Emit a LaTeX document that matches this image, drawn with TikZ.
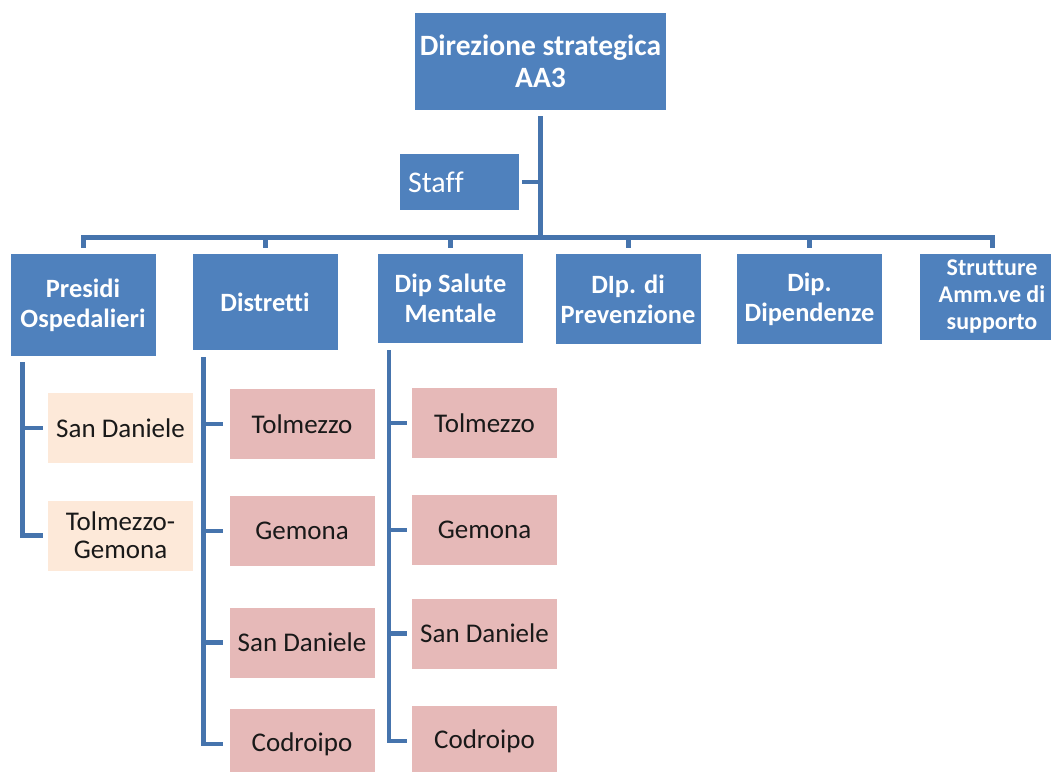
\documentclass[tikz,border=0pt]{standalone}
\usepackage{fontspec}
\setmainfont{Carlito}[Ligatures=NoCommon]
\definecolor{boxblue}{HTML}{4F81BD}
\definecolor{linkblue}{HTML}{4674AD}
\definecolor{subpink}{HTML}{E6B9B8}
\definecolor{subpeach}{HTML}{FDE9D9}
\begin{document}
\begin{tikzpicture}[x=1pt,y=-1pt,
    unit/.style={fill=boxblue,text=white,font=\bfseries\fontsize{26.4}{30}\selectfont,
      align=center,inner sep=0pt,minimum width=145pt},
    office/.style={fill=subpink,text=black!90,font=\fontsize{27}{28}\selectfont,
      align=center,inner sep=0pt,minimum width=145pt,minimum height=70pt},
    link/.style={draw=linkblue,line width=4.5pt}]
  \useasboundingbox (0,0) rectangle (1051,771);
  \clip (0,0) rectangle (1051,771);

  \node[unit,minimum width=251pt,minimum height=97pt,font=\bfseries\fontsize{29.5}{32}\selectfont]
    at (540.5,61.5) (dir) {Direzione strategica\\AA3};
  \node[unit,minimum width=0pt,minimum height=56pt,text width=103pt,align=left,inner xsep=8pt,
    font=\fontsize{30}{32}\selectfont] at (459.5,182) (staff) {Staff};

  \node[unit,minimum height=102pt] at (83,305) (pres) {Presidi\\Ospedalieri};
  \node[unit,minimum height=96pt] at (265,302) (distr) {Distretti};
  \node[unit,minimum height=89pt] at (450.5,298.5) (dsm) {Dip Salute\\Mentale};
  \node[unit,minimum height=90pt] at (628,299) (prev) {DIp. di\\Prevenzione};
  \node[unit,minimum height=90pt] at (809.5,299) (dip) {Dip.\\Dipendenze};
  \node[unit,minimum height=86pt,font=\bfseries\fontsize{24}{27}\selectfont]
    at (992,297) (strut) {Strutture\\Amm.ve di\\supporto};

  \node[office,fill=subpeach] at (120.5,428) (pres1) {San Daniele};
  \node[office,fill=subpeach] at (120.5,535.5) (pres2) {Tolmezzo-\\Gemona};

  \node[office] at (302,424) (distr1) {Tolmezzo};
  \node[office] at (302,531) (distr2) {Gemona};
  \node[office] at (302,642.5) (distr3) {San Daniele};
  \node[office] at (302,744) (distr4) {Codroipo};

  \node[office] at (484.5,423) (dsm1) {Tolmezzo};
  \node[office] at (484.5,530) (dsm2) {Gemona};
  \node[office] at (484.5,633.5) (dsm3) {San Daniele};
  \node[office] at (484.5,741) (dsm4) {Codroipo};

  % draw edges
  \coordinate (bar) at (540.5,237);
  \draw[link,line width=5.5pt] ([yshift=-6pt]dir.south) -- (bar);
  \draw[link] ([xshift=3pt]staff.east) -- (staff.east -| dir.south);
  \foreach \n in {pres,distr,dsm,prev,dip,strut}
    \draw[link,line width=5pt] (bar) -| ([yshift=6pt]\n.north);

  \draw[link] ([xshift=12pt,yshift=-6pt]pres.south west) |- ([xshift=-5pt]pres2.west);
  \draw[link] ([xshift=12pt,yshift=-6pt]pres.south west) |- ([xshift=-5pt]pres1.west);
  \draw[link] ([xshift=11pt,yshift=-7pt]distr.south west) |- ([xshift=-6pt]distr4.west);
  \foreach \i in {1,2,3}
    \draw[link] ([xshift=11pt,yshift=-7pt]distr.south west) |- ([xshift=-6pt]distr\i.west);
  \draw[link] ([xshift=11pt,yshift=-7pt]dsm.south west) |- ([xshift=-5pt]dsm4.west);
  \foreach \i in {1,2,3}
    \draw[link] ([xshift=11pt,yshift=-7pt]dsm.south west) |- ([xshift=-5pt]dsm\i.west);
\end{tikzpicture}
\end{document}
